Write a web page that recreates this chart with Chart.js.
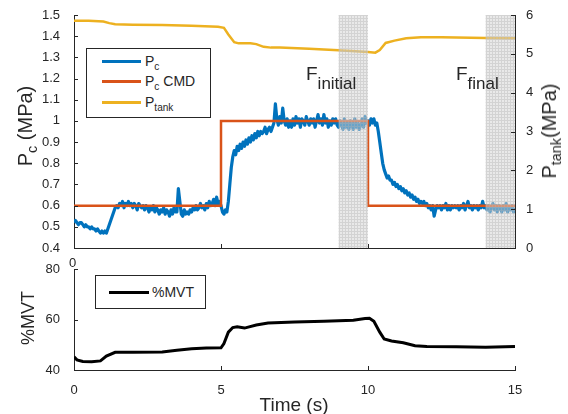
<!DOCTYPE html>
<html>
<head>
<meta charset="utf-8">
<script src="https://cdn.jsdelivr.net/npm/chart.js@4"></script>
<style>
body{margin:0;background:#fff;}
#wrap{position:relative;width:568px;height:414px;font-family:"Liberation Sans",Arial,sans-serif;color:#262626;}
#wrap canvas{position:absolute;left:0;top:0;}
.lab{position:absolute;white-space:nowrap;line-height:1;}
.rot{transform:translate(-50%,-50%) rotate(-90deg);}
.sub{position:relative;top:0.35em;font-size:72%;}
.legend{position:absolute;background:#fff;border:1px solid #262626;box-sizing:border-box;}
.row{position:absolute;left:0;height:20px;line-height:20px;font-size:14px;white-space:nowrap;}
.row i{position:absolute;top:8.5px;height:3px;}
.row span.t{position:absolute;}
</style>
</head>
<body>
<div id="wrap">
  <canvas id="top" width="568" height="414"></canvas>
  <canvas id="bottom" width="568" height="414"></canvas>

  <div class="lab rot" style="left:25px;top:126px;font-size:20px;">P<span class="sub">c</span> (MPa)</div>
  <div class="lab rot" style="left:549px;top:131px;font-size:20px;">P<span class="sub">tank</span>(MPa)</div>
  <div class="lab rot" style="left:28px;top:318px;font-size:18px;">%MVT</div>
  <div class="lab" style="left:294px;top:404px;transform:translate(-50%,-50%);font-size:19px;">Time (s)</div>
  <div class="lab" style="left:69px;top:256px;font-size:13px;">0</div>

  <div class="lab" style="left:306px;top:64px;font-size:19px;">F<span class="sub" style="top:9px;font-size:17px;">initial</span></div>
  <div class="lab" style="left:456px;top:64px;font-size:19px;">F<span class="sub" style="top:9px;font-size:17px;">final</span></div>

  <div class="legend" style="left:86px;top:48px;width:125px;height:70px;">
    <div class="row" style="top:2px;"><i style="left:15px;width:39px;background:#0072BD;"></i><span class="t" style="left:58px;">P<span class="sub">c</span></span></div>
    <div class="row" style="top:22px;"><i style="left:15px;width:39px;background:#D95319;"></i><span class="t" style="left:58px;">P<span class="sub">c</span> CMD</span></div>
    <div class="row" style="top:43px;"><i style="left:15px;width:39px;background:#EDB120;"></i><span class="t" style="left:58px;">P<span class="sub">tank</span></span></div>
  </div>
  <div class="legend" style="left:95px;top:275px;width:111px;height:34px;">
    <div class="row" style="top:6px;"><i style="left:13px;width:40px;background:#000;height:3.5px;"></i><span class="t" style="left:56px;">%MVT</span></div>
  </div>
</div>
<script>
// P_c measured, one sample every 0.05 s (rows = 1 s)
var sampleStep = 0.05;
var pcValues = [
  0.52,0.53,0.52,0.51,0.52,0.52,0.51,0.50,0.51,0.50,0.50,0.49,0.50,0.49,0.49,0.48,0.49,0.48,0.47,0.48,
  0.47,0.48,0.47,0.49,0.51,0.53,0.55,0.57,0.59,0.60,0.59,0.61,0.60,0.62,0.59,0.61,0.60,0.62,0.60,0.61,
  0.59,0.61,0.60,0.58,0.61,0.60,0.59,0.60,0.58,0.60,0.59,0.57,0.59,0.58,0.60,0.57,0.59,0.58,0.56,0.58,
  0.57,0.59,0.56,0.58,0.57,0.55,0.58,0.56,0.59,0.57,0.57,0.68,0.62,0.56,0.55,0.58,0.56,0.57,0.56,0.58,
  0.57,0.59,0.58,0.60,0.58,0.59,0.61,0.59,0.60,0.58,0.61,0.59,0.62,0.60,0.61,0.63,0.60,0.64,0.61,0.62,
  0.60,0.57,0.56,0.58,0.57,0.62,0.70,0.78,0.83,0.86,0.84,0.88,0.86,0.89,0.87,0.90,0.88,0.91,0.89,0.92,
  0.90,0.93,0.91,0.94,0.92,0.95,0.93,0.95,0.94,0.95,0.97,0.94,0.96,0.97,0.95,0.97,0.99,1.08,1.01,0.98,
  1.02,0.99,1.06,1.00,0.98,1.01,0.97,1.00,0.97,1.01,0.98,1.02,0.99,1.01,0.97,1.01,1.00,0.98,1.02,1.00,
  0.98,1.01,0.99,1.01,0.97,1.00,1.03,0.99,1.01,0.98,1.03,0.99,1.01,0.97,1.00,0.98,1.01,0.99,1.01,0.98,
  0.97,1.00,0.98,0.96,1.01,0.97,0.99,0.96,1.00,0.98,0.96,1.01,0.97,0.99,0.96,0.98,1.01,0.97,1.02,0.99,
  1.00,0.98,1.01,0.99,1.01,0.98,0.99,0.95,0.90,0.85,0.80,0.77,0.75,0.73,0.74,0.72,0.72,0.70,0.71,0.69,
  0.70,0.68,0.69,0.67,0.68,0.66,0.67,0.65,0.66,0.64,0.65,0.63,0.64,0.62,0.63,0.61,0.62,0.61,0.62,0.60,
  0.61,0.59,0.60,0.58,0.60,0.55,0.58,0.60,0.59,0.60,0.58,0.60,0.59,0.61,0.58,0.60,0.58,0.60,0.59,0.60,
  0.59,0.60,0.58,0.60,0.59,0.61,0.58,0.60,0.62,0.59,0.60,0.58,0.60,0.59,0.60,0.58,0.60,0.59,0.62,0.59,
  0.60,0.58,0.60,0.57,0.59,0.61,0.58,0.60,0.57,0.60,0.59,0.57,0.60,0.58,0.61,0.57,0.59,0.58,0.60,0.57,
  0.59
];
// commanded pressure (step)
var cmdTime  = [0, 5, 5, 10, 10, 15];
var cmdValue = [0.6, 0.6, 1, 1, 0.6, 0.6];
// tank pressure, right axis
var tankTime  = [0, 0.5, 1.0, 1.2, 1.4, 2, 3, 4, 4.9, 5.1, 5.25, 5.45, 5.6, 6.0, 6.2, 6.45, 6.7, 7, 8, 9, 10, 10.25, 10.4, 10.6, 10.9, 11.3, 11.8, 12.5, 13, 14, 15];
var tankValue = [5.85, 5.85, 5.83, 5.79, 5.76, 5.75, 5.74, 5.72, 5.70, 5.67, 5.50, 5.30, 5.27, 5.27, 5.25, 5.18, 5.16, 5.16, 5.13, 5.09, 5.05, 5.03, 5.10, 5.28, 5.34, 5.40, 5.43, 5.43, 5.42, 5.41, 5.40];
// %MVT, lower plot
var mvtTime  = [0, 0.1, 0.3, 0.6, 0.9, 1.1, 1.4, 2, 3, 3.5, 4, 4.5, 5.0, 5.1, 5.25, 5.4, 5.55, 5.8, 6.2, 6.6, 7.5, 8.5, 9.5, 9.9, 10.05, 10.2, 10.4, 10.55, 10.8, 11.2, 11.6, 12, 13, 14, 15];
var mvtValue = [45.2, 44, 43.4, 43.3, 43.6, 45.5, 47, 47, 47.1, 47.8, 48.4, 48.7, 48.8, 50.5, 55, 56.8, 57.1, 56.6, 57.8, 58.6, 59, 59.3, 59.7, 60.4, 60.5, 59.3, 55, 52.3, 51.5, 50.8, 49.6, 49.3, 49.2, 49.0, 49.3];
// shaded windows
var shadeFrom = [9, 14];
var shadeTo   = [10, 15];
// tick labels
var timeTicks = [0, 5, 10, 15];
var pcTicks   = [0.4, 0.5, 0.6, 0.7, 0.8, 0.9, 1, 1.1, 1.2, 1.3, 1.4, 1.5];
var tankTicks = [0, 1, 2, 3, 4, 5, 6];
var mvtTicks  = [40, 60, 80];

var ink = '#262626';
Chart.defaults.font.family = '"Liberation Sans", Arial, sans-serif';
Chart.defaults.font.size = 13;
Chart.defaults.color = ink;

function fixedTicks(list) {
    return function (scale) { scale.ticks = list.map(function (v) { return {value: v}; }); };
}
function pts(xs, ys) {
    return xs.map(function (x, i) { return {x: x, y: ys[i]}; });
}

// light grey grid pattern for the shaded windows
var tile = document.createElement('canvas');
tile.width = 3; tile.height = 3;
var tc = tile.getContext('2d');
tc.fillStyle = 'rgba(212,212,212,0.5)';
tc.fillRect(0, 0, 3, 3);
tc.fillStyle = 'rgba(180,180,180,0.4)';
tc.fillRect(0, 0, 3, 1);
tc.fillRect(0, 1, 1, 2);
var hatch = tc.createPattern(tile, 'repeat');

var shadePlugin = {
    id: 'shade',
    afterDatasetsDraw: function (chart) {
        var ctx = chart.ctx, a = chart.chartArea, x = chart.scales.x;
        ctx.save();
        ctx.fillStyle = hatch;
        shadeFrom.forEach(function (t, i) {
            var x0 = x.getPixelForValue(t), x1 = x.getPixelForValue(shadeTo[i]);
            ctx.fillRect(x0, a.top, x1 - x0, a.bottom - a.top);
        });
        ctx.restore();
    }
};

// matlab style ticks pointing into the axes
var inwardTicks = {
    id: 'inwardTicks',
    afterDraw: function (chart) {
        var ctx = chart.ctx;
        ctx.save();
        ctx.strokeStyle = ink;
        ctx.lineWidth = 1;
        Object.keys(chart.scales).forEach(function (k) {
            var s = chart.scales[k];
            s.ticks.forEach(function (t) {
                var p = Math.round(s.getPixelForValue(t.value)) + 0.5;
                ctx.beginPath();
                if (s.axis === 'x') {
                    ctx.moveTo(p, s.top); ctx.lineTo(p, s.top - 4);
                } else if (s.position === 'left') {
                    ctx.moveTo(s.right, p); ctx.lineTo(s.right + 4, p);
                } else {
                    ctx.moveTo(s.left, p); ctx.lineTo(s.left - 4, p);
                }
                ctx.stroke();
            });
        });
        ctx.restore();
    }
};

var topChart = new Chart(document.getElementById('top'), {
    type: 'line',
    data: {
        datasets: [{
            label: 'Pc CMD',
            data: pts(cmdTime, cmdValue),
            borderColor: '#D95319',
            borderWidth: 2.5,
            pointRadius: 0,
            yAxisID: 'y',
            order: 0
        }, {
            label: 'Pc',
            data: pcValues.map(function (v, i) { return {x: i * sampleStep, y: v}; }),
            borderColor: '#0072BD',
            borderWidth: 3.2,
            borderJoinStyle: 'round',
            pointRadius: 0,
            yAxisID: 'y',
            order: 1
        }, {
            label: 'Ptank',
            data: pts(tankTime, tankValue),
            borderColor: '#EDB120',
            borderWidth: 2.5,
            pointRadius: 0,
            yAxisID: 'y1',
            order: 2
        }]
    },
    options: {
        responsive: false,
        animation: false,
        layout: {padding: {top: 15, left: 0, right: 0, bottom: 0}},
        plugins: {legend: {display: false}, tooltip: {enabled: false}},
        scales: {
            x: {
                type: 'linear', min: 0, max: 15,
                afterBuildTicks: fixedTicks(timeTicks),
                afterFit: function (s) { s.height = 414 - 248; },
                ticks: {display: false},
                grid: {display: false},
                border: {color: ink}
            },
            y: {
                position: 'left', min: 0.4, max: 1.5,
                afterBuildTicks: fixedTicks(pcTicks),
                afterFit: function (s) { s.width = 74; },
                ticks: {padding: 6, callback: function (v) { return String(+v.toFixed(1)); }},
                grid: {display: false},
                border: {color: ink}
            },
            y1: {
                position: 'right', min: 0, max: 6,
                afterBuildTicks: fixedTicks(tankTicks),
                afterFit: function (s) { s.width = 568 - 515; },
                ticks: {padding: 3},
                grid: {display: false},
                border: {color: ink}
            }
        }
    },
    plugins: [shadePlugin, inwardTicks]
});

var bottomChart = new Chart(document.getElementById('bottom'), {
    type: 'line',
    data: {
        datasets: [{
            label: '%MVT',
            data: pts(mvtTime, mvtValue),
            borderColor: '#000000',
            borderWidth: 3,
            pointRadius: 0
        }]
    },
    options: {
        responsive: false,
        animation: false,
        layout: {padding: {top: 269, left: 0, right: 568 - 515, bottom: 0}},
        plugins: {legend: {display: false}, tooltip: {enabled: false}},
        scales: {
            x: {
                type: 'linear', min: 0, max: 15,
                afterBuildTicks: fixedTicks(timeTicks),
                afterFit: function (s) { s.height = 414 - 370; },
                ticks: {padding: 5},
                grid: {display: false},
                border: {color: ink}
            },
            y: {
                min: 40, max: 80,
                afterBuildTicks: fixedTicks(mvtTicks),
                afterFit: function (s) { s.width = 74; },
                ticks: {padding: 6},
                grid: {display: false},
                border: {color: ink}
            }
        }
    },
    plugins: [inwardTicks]
});
</script>
</body>
</html>
